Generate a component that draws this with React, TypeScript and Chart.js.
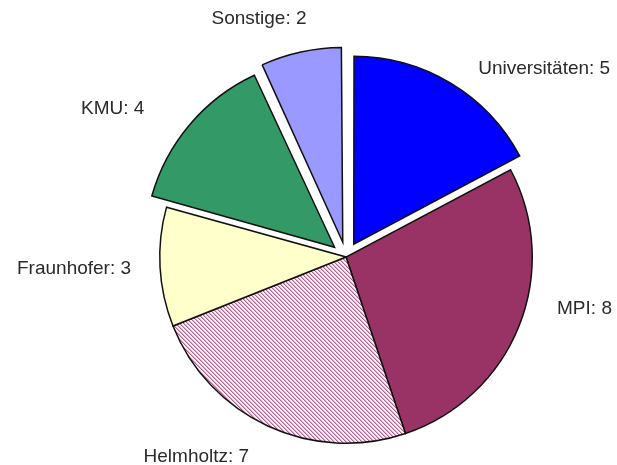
import React, { useEffect, useRef } from "react";
import { Chart, registerables } from "chart.js";

Chart.register(...registerables);

const categories = ["Universitäten", "MPI", "Helmholtz", "Fraunhofer", "KMU", "Sonstige"];
const values = [5, 8, 7, 3, 4, 2];
const explode = [60, 0, 0, 0, 60, 60];
const colors = ["#0000FF", "#993366", "pattern", "#FFFFCC", "#339966", "#9999FF"];
// label placement tweaks: angle shift (deg) and gap beyond outer radius (px)
const labelShiftDeg = [4, -8, 1, 0, -4, 3];
const labelGap = [44, 31, 36, 29, 64, 55];

function makeHatch(): CanvasPattern | string {
  const c = document.createElement("canvas");
  c.width = 4;
  c.height = 4;
  const g = c.getContext("2d");
  if (!g) return "#e6bcd6";
  for (let x = 0; x < 4; x++) {
    for (let y = 0; y < 4; y++) {
      const k = (((x - y) % 4) + 4) % 4;
      g.fillStyle = k === 0 ? "#b0628c" : k === 1 ? "#e0b4cd" : "#f8eef4";
      g.fillRect(x, y, 1, 1);
    }
  }
  const p = g.createPattern(c, "repeat");
  return p || "#e6bcd6";
}

const labelPlugin = {
  id: "outerLabels",
  afterDatasetsDraw(chart: any) {
    const ctx = chart.ctx;
    const meta = chart.getDatasetMeta(0);
    ctx.save();
    ctx.font = "19px 'Liberation Sans', Arial, sans-serif";
    ctx.fillStyle = "#2a2a2a";
    ctx.textBaseline = "middle";
    meta.data.forEach((arc: any, i: number) => {
      const { x, y, startAngle, endAngle, outerRadius } = arc.getProps(
        ["x", "y", "startAngle", "endAngle", "outerRadius"],
        true
      );
      const mid = (startAngle + endAngle) / 2 + (labelShiftDeg[i] * Math.PI) / 180;
      const r = outerRadius + labelGap[i];
      const lx = x + Math.cos(mid) * r;
      const ly = y + Math.sin(mid) * r;
      const c = Math.cos(mid);
      ctx.textAlign = c > 0.05 ? "left" : c < -0.05 ? "right" : "center";
      ctx.fillText(`${categories[i]}: ${values[i]}`, lx, ly);
    });
    ctx.restore();
  },
};

export default function App() {
  const ref = useRef<HTMLCanvasElement | null>(null);
  useEffect(() => {
    if (!ref.current) return;
    const hatch = makeHatch();
    const chart = new Chart(ref.current, {
      type: "pie",
      data: {
        labels: categories,
        datasets: [
          {
            data: values,
            backgroundColor: colors.map((c) => (c === "pattern" ? hatch : c)) as any,
            borderColor: "#111",
            borderWidth: 1.5,
            borderJoinStyle: "miter",
            offset: explode,
            hoverOffset: 0,
          } as any,
        ],
      },
      options: {
        responsive: false,
        animation: false,
        events: [],
        layout: { padding: { left: 96, right: 21, top: 40, bottom: 6 } },
        plugins: {
          legend: { display: false },
          tooltip: { enabled: false },
          title: { display: false },
        },
      },
      plugins: [labelPlugin],
    });
    return () => chart.destroy();
  }, []);
  return (
    <div
      style={{
        position: "fixed",
        left: 0,
        top: 0,
        width: 617,
        height: 465,
        overflow: "hidden",
        background: "#fff",
      }}
    >
      <canvas ref={ref} width={617} height={480} style={{ display: "block" }} />
    </div>
  );
}
